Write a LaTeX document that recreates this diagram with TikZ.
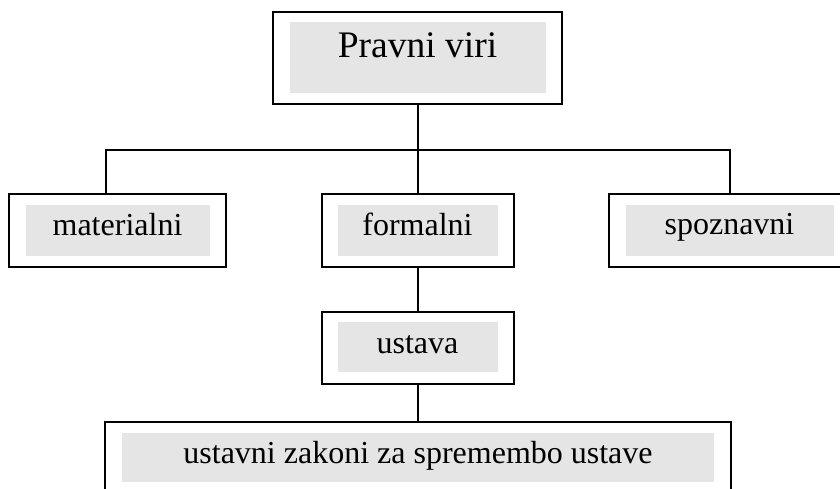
\documentclass[tikz,border=0pt]{standalone}
\usepackage{fontspec}
\setmainfont{Liberation Serif}
\definecolor{shade}{HTML}{E5E5E5}
\tikzset{
  outerbox/.style={draw=black, line width=2pt, fill=white, minimum width=#1, inner sep=0pt, outer sep=0pt},
  graybox/.style={fill=shade, draw=none, inner sep=0pt, outer sep=0pt},
  label/.style={anchor=base, inner sep=0pt, outer sep=0pt, font=\fontsize{32}{38}\selectfont},
  conn/.style={draw=black, line width=1.7pt}
}
\begin{document}
\begin{tikzpicture}[x=1pt,y=-1pt]
\useasboundingbox (0,0) rectangle (840,488);
\clip (0,0) rectangle (840,488);
% outer boxes
\node[outerbox=289pt, minimum height=92pt] (top) at (417.5,58) {};
\node[outerbox=217pt, minimum height=73pt] (mat) at (117.5,230.5) {};
\node[outerbox=192pt, minimum height=73pt] (for) at (418,230.5) {};
\node[outerbox=242pt, minimum height=73pt] (spo) at (730,230.5) {};
\node[outerbox=192pt, minimum height=72pt] (ust) at (418,348) {};
\node[outerbox=626pt, minimum height=72pt] (zak) at (418,458) {};
% gray fields
\node[graybox, minimum width=256pt, minimum height=71pt] (gtop) at (418,57.5) {};
\node[graybox, minimum width=184pt, minimum height=51pt] (gmat) at (118,230.5) {};
\node[graybox, minimum width=160pt, minimum height=51pt] (gfor) at (418,230.5) {};
\node[graybox, minimum width=208pt, minimum height=51pt] (gspo) at (730,230.5) {};
\node[graybox, minimum width=160pt, minimum height=50pt] (gust) at (418,347) {};
\node[graybox, minimum width=592pt, minimum height=49pt] (gzak) at (418,457.5) {};
% texts
\node[label, font=\fontsize{37.5}{44}\selectfont] (ttop) at (417.5,57) {Pravni viri};
\node[label] (tmat) at (117.5,235) {materialni};
\node[label] (tfor) at (417.5,235) {formalni};
\node[label] (tspo) at (729.5,234.5) {spoznavni};
\node[label] (tust) at (417.5,353) {ustava};
\node[label] (tzak) at (418,463) {ustavni zakoni za spremembo ustave};
% connectors
\coordinate (bus) at (418,150);
\draw[conn] ([xshift=0.5pt]top.south) -- ([xshift=0.5pt]top.south |- bus);
\draw[conn] ([xshift=97pt]mat.north west) |- (bus) -| (spo.north);
\draw[conn] (for.north) -- (for.north |- bus);
\draw[conn] (for.south) -- (ust.north);
\draw[conn] (ust.south) -- (zak.north);
\end{tikzpicture}
\end{document}
